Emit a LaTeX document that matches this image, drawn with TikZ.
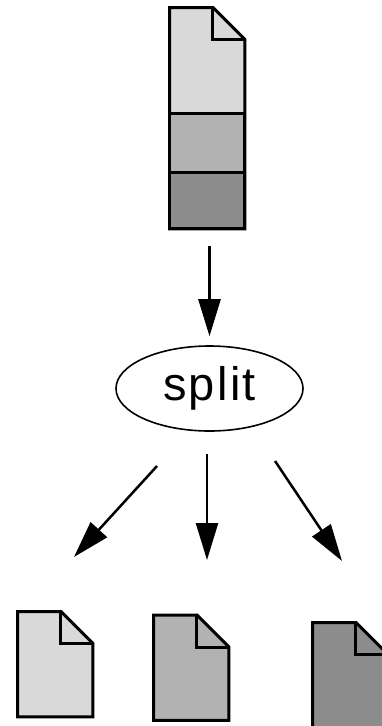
\documentclass[tikz,border=0pt]{standalone}
\usepackage{fontspec}
\setmainfont{Liberation Sans}
\usetikzlibrary{shapes.geometric, arrows.meta, positioning}
\definecolor{lightpart}{RGB}{217,217,217}
\definecolor{midpart}{RGB}{178,178,178}
\definecolor{darkpart}{RGB}{140,140,140}

\tikzset{
  docline/.style={line width=3pt, line join=miter},
  flow/.style={line width=2.5pt, -{Triangle[length=37pt,width=22pt]}},
}

% page with folded corner: name, top left, fill, height
\newcommand{\docpage}[4]{%
  \node[inner sep=0pt, minimum width=75pt, minimum height=#4, anchor=north west] (#1) at (#2) {};
  \filldraw[docline, fill=#3] (#1.north west) -- ([xshift=-32pt]#1.north east)
    -- ([yshift=-32pt]#1.north east) -- (#1.south east) -- (#1.south west) -- cycle;
  \draw[docline] ([xshift=-32pt]#1.north east) |- ([yshift=-32pt]#1.north east);
}

\begin{document}
\begin{tikzpicture}[x=1pt, y=-1pt]
\useasboundingbox (0,0) rectangle (381,726);

% whole file
\docpage{src}{169.5,7.5}{lightpart}{221pt}
\filldraw[docline, fill=midpart] (169.5,113) rectangle (244.5,172);
\filldraw[docline, fill=darkpart] (169.5,172) rectangle (244.5,228.5);

\node[draw, ellipse, line width=1.6pt, minimum width=187pt, minimum height=85pt, inner sep=0pt,
  font=\fontsize{47}{50}\selectfont\addfontfeature{LetterSpace=5}] (split) at (209.5,388.5) {split};

% parts
\docpage{partA}{17.5,611.5}{lightpart}{105pt}
\docpage{partB}{153.5,615}{midpart}{105pt}
\docpage{partC}{312.5,622.5}{darkpart}{105pt}

\coordinate (outA) at (157,466);
\coordinate (outB) at (207,454);
\coordinate (outC) at (275,461);
\coordinate (inA) at (74,557);
\coordinate (inB) at (207,560);
\coordinate (inC) at (342,561);

\draw[flow] ([yshift=-17pt]src.south -| split.north) -- ([yshift=9pt]split.north);
\draw[flow] (outA) -- (inA);
\draw[flow] (outB) -- (inB);
\draw[flow] (outC) -- (inC);
\end{tikzpicture}
\end{document}
